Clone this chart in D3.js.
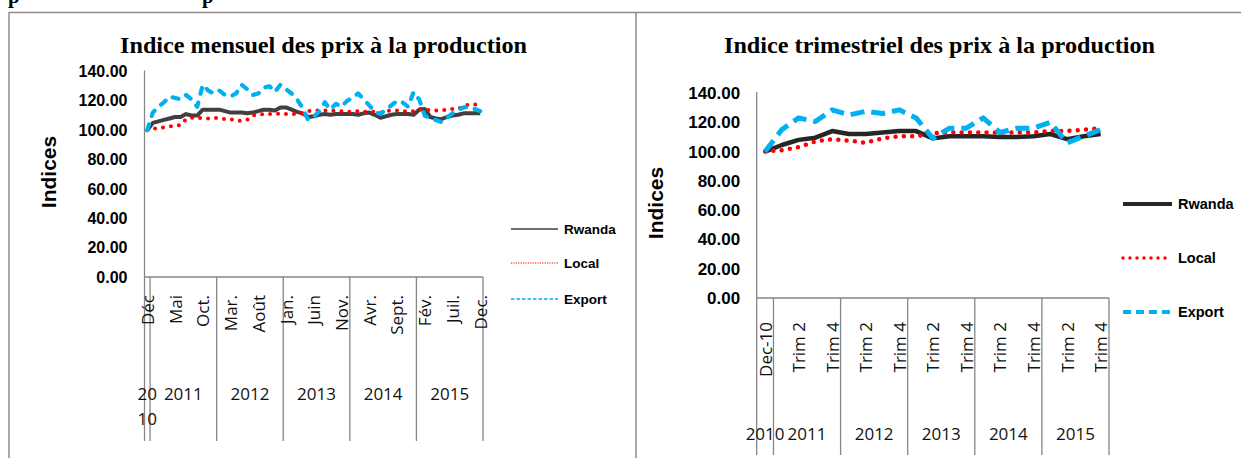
<!DOCTYPE html>
<html>
<head>
<meta charset="utf-8">
<script src="https://cdn.jsdelivr.net/npm/d3@7"></script>
<style>
  html, body { margin: 0; padding: 0; background: #fff; }
  svg { display: block; }
</style>
</head>
<body>
<div id="chart"></div>
<script>
// ---------------- DATA ----------------
const seriesNames = ["Rwanda", "Local", "Export"];
const yTicks = [0, 20, 40, 60, 80, 100, 120, 140];

// Monthly: Dec 2010 .. Dec 2015 (61 months)
const monthTickLabels = ["Déc", "Mai", "Oct.", "Mar.", "Août", "Jan.", "Juin", "Nov.", "Avr.", "Sept.", "Fév.", "Juil.", "Dec."];
const monthTickStep = 5;
const yearLabels = ["2010", "2011", "2012", "2013", "2014", "2015"];
const monthsPerYear = [1, 12, 12, 12, 12, 12];

const rwandaMonthly = [100, 105, 106, 107, 108, 109, 109, 111, 110, 110,
  114, 114, 114, 114, 113, 112, 112, 112, 111.5, 112,
  113, 114, 114, 113.5, 115.5, 115.5, 114, 112.5, 111.5, 109,
  109.5, 110.5, 111, 110.5, 111, 111, 111, 111, 110.5, 111.5,
  112, 110.5, 108.5, 109.5, 110.5, 111, 111, 111, 110.5, 114,
  114.5, 109, 108, 107.5, 109, 110, 110.5, 111.5, 111.5, 111.5, 111.5];
const localMonthly = [100, 101, 101.5, 102, 102.5, 103, 103.5, 107.5, 108.5, 108.5,
  108, 108, 108.5, 108, 107.5, 107.5, 106.5, 106.5, 107, 110,
  110.5, 111, 111, 111, 111.5, 111, 111, 111, 111.5, 113,
  113.5, 113.5, 113.5, 113.5, 113, 113, 112.5, 112.5, 113, 112.5,
  112.5, 112.5, 112, 113, 113.5, 113.5, 113, 113, 113, 114.5,
  114.5, 113.5, 113.5, 113.5, 114, 114.5, 114.5, 116.5, 117.5, 117.5, 117];
const exportMonthly = [100, 112, 116, 119, 123, 122, 121, 124, 121, 116,
  131, 127, 125, 127, 124, 123, 125, 131, 128, 124,
  125, 129, 130, 126, 131, 128, 125, 121, 115, 107,
  109, 113, 119, 114, 118, 116, 120, 122, 125, 121,
  117, 112.5, 111, 114, 117, 120, 119, 116, 126, 121,
  110, 108, 107, 105.5, 108.5, 111.5, 114, 115.5, 116, 114.5, 113];

// Quarterly: Dec-10, then Trim 1..4 for 2011..2015 (21 points)
const quarterTickLabels = ["Dec-10", "Trim 2", "Trim 4", "Trim 2", "Trim 4", "Trim 2", "Trim 4", "Trim 2", "Trim 4", "Trim 2", "Trim 4"];
const quarterTickStep = 2;
const quartersPerYear = [1, 4, 4, 4, 4, 4];

const rwandaQuarterly = [100, 104.5, 108, 109.5, 114, 112, 112, 113, 114, 114, 109, 110.5, 110.5, 110.5, 110, 110, 110.5, 112, 108.5, 110.5, 112];
const localQuarterly  = [100, 101, 103, 107, 108.5, 107.5, 106, 109, 110.5, 110.5, 112.5, 113, 113, 113, 113, 113, 113, 114, 114, 115, 116];
const exportQuarterly = [100, 115, 123, 120.5, 128.5, 125, 127.5, 126, 128.5, 123, 109, 116, 116, 123, 113, 116, 116, 120, 106, 110.5, 115];

// ---------------- DRAWING ----------------
const W = 1241, H = 458;
const svg = d3.select("#chart").append("svg").attr("width", W).attr("height", H);
const AXIS = "#868686";
const SANS = "'Liberation Sans', Arial, sans-serif";
const LABEL = "'Open Sans', 'Noto Sans', sans-serif";
const SERIF = "'Liberation Serif', 'Times New Roman', serif";

// Clipped heading remnants at very top (the reference shows only their lower part)
svg.append("g").selectAll("text").data([8, 202]).join("text")
  .attr("x", d => d).attr("y", 3)
  .attr("font-family", SERIF).attr("font-weight", "bold").attr("font-size", 21)
  .attr("fill", "#000").text("p");

// Frame
const frame = svg.append("g").attr("stroke", "#8c8c8c").attr("stroke-width", 1.5).attr("fill", "none");
frame.append("line").attr("x1", 9).attr("x2", W).attr("y1", 12.5).attr("y2", 12.5);
frame.append("line").attr("x1", 9).attr("x2", 9).attr("y1", 12).attr("y2", H);
frame.append("line").attr("x1", 636).attr("x2", 636).attr("y1", 12).attr("y2", H);

function drawPanel(cfg) {
  const g = svg.append("g");
  const n = cfg.series[0].values.length;
  const x = d3.scaleBand().domain(d3.range(n)).range([cfg.x0, cfg.x1]).paddingInner(0).paddingOuter(0);
  const cx = i => x(i) + x.bandwidth() / 2;
  const y = d3.scaleLinear().domain([0, 140]).range([cfg.yBottom, cfg.yTop]);

  // Title
  g.append("text")
    .attr("x", cfg.titleX).attr("y", cfg.titleY)
    .attr("text-anchor", "middle")
    .attr("font-family", SERIF).attr("font-weight", "bold").attr("font-size", 24)
    .attr("textLength", cfg.titleLen).attr("lengthAdjust", "spacingAndGlyphs")
    .attr("fill", "#000").text(cfg.title);

  // Y axis
  const yAxis = d3.axisLeft(y).tickValues(yTicks).tickFormat(d3.format(".2f")).tickSize(0).tickPadding(cfg.yPad);
  const ya = g.append("g").attr("transform", `translate(${cfg.x0},0)`).call(yAxis);
  ya.select(".domain").remove();
  ya.selectAll("text")
    .attr("font-family", SANS).attr("font-weight", "bold").attr("font-size", cfg.yFont).attr("fill", "#000");

  // Axis lines
  g.append("line").attr("x1", cfg.x0).attr("x2", cfg.x0).attr("y1", cfg.yTop - 1).attr("y2", cfg.sepBottom)
    .attr("stroke", AXIS).attr("stroke-width", 1.3);
  g.append("line").attr("x1", cfg.x0).attr("x2", cfg.x1).attr("y1", cfg.yBottom).attr("y2", cfg.yBottom)
    .attr("stroke", AXIS).attr("stroke-width", 1.3);

  // Group separators
  const bounds = d3.cumsum(cfg.groupSizes);
  g.append("g").selectAll("line").data(bounds).join("line")
    .attr("x1", d => d >= n ? cfg.x1 : x(d)).attr("x2", d => d >= n ? cfg.x1 : x(d))
    .attr("y1", cfg.yBottom).attr("y2", cfg.sepBottom)
    .attr("stroke", AXIS).attr("stroke-width", 1.3);

  // Rotated category labels
  g.append("g").selectAll("text").data(cfg.tickLabels).join("text")
    .attr("transform", (d, k) => `translate(${cx(k * cfg.tickStep)},${cfg.labelTop}) rotate(-90)`)
    .attr("text-anchor", "end").attr("dominant-baseline", "central")
    .attr("font-family", LABEL).attr("font-size", 17).attr("fill", "#111")
    .text(d => d);

  // Year labels
  const starts = [0, ...bounds.slice(0, -1)];
  cfg.groupLabels.forEach((lab, k) => {
    const s = starts[k], e = bounds[k];
    const mid = ((s >= n ? cfg.x1 : x(s)) + (e >= n ? cfg.x1 : x(e))) / 2;
    const t = g.append("text")
      .attr("x", mid).attr("y", cfg.yearY)
      .attr("text-anchor", "middle").attr("dominant-baseline", "central")
      .attr("font-family", LABEL).attr("font-size", 17).attr("fill", "#111");
    if (cfg.wrapFirst && k === 0) {
      t.append("tspan").attr("x", mid).text(lab.slice(0, 2));
      t.append("tspan").attr("x", mid).attr("dy", 25).text(lab.slice(2));
    } else {
      t.text(lab);
    }
  });

  // Lines
  const line = d3.line().x((d, i) => cx(i)).y(d => y(d));
  cfg.series.forEach(s => {
    g.append("path").datum(s.values)
      .attr("d", line).attr("fill", "none")
      .attr("stroke", s.color).attr("stroke-width", s.width)
      .attr("stroke-dasharray", s.dash || null)
      .attr("stroke-linecap", s.cap || "butt").attr("stroke-linejoin", "round");
  });

  // Legend
  const lg = g.append("g");
  cfg.series.forEach((s, k) => {
    const ly = cfg.legY[k];
    lg.append("line").attr("x1", cfg.legX0).attr("x2", cfg.legX1).attr("y1", ly).attr("y2", ly)
      .attr("stroke", s.color).attr("stroke-width", s.legWidth)
      .attr("stroke-dasharray", s.legDash || null).attr("stroke-linecap", s.legCap || "butt");
    lg.append("text").attr("x", cfg.legX1 + 6).attr("y", ly).attr("dy", "0.35em")
      .attr("font-family", SANS).attr("font-weight", "bold").attr("font-size", cfg.legFont).attr("fill", "#000")
      .text(seriesNames[k]);
  });

  // Y axis title
  g.append("text")
    .attr("transform", `translate(${cfg.yTitleX},${cfg.yTitleY}) rotate(-90)`)
    .attr("text-anchor", "middle").attr("dominant-baseline", "central")
    .attr("font-family", SANS).attr("font-weight", "bold").attr("font-size", 21).attr("fill", "#000")
    .text("Indices");
}

drawPanel({
  title: "Indice mensuel des prix à la production", titleX: 323.5, titleY: 53, titleLen: 407,
  x0: 144.5, x1: 483, yTop: 71.5, yBottom: 277, sepBottom: 441,
  yPad: 17, yFont: 16,
  tickLabels: monthTickLabels, tickStep: monthTickStep, labelTop: 295,
  groupSizes: monthsPerYear, groupLabels: yearLabels, yearY: 393, wrapFirst: true,
  yTitleX: 48, yTitleY: 172,
  legX0: 511, legX1: 558, legY: [229, 263, 299], legFont: 13.5,
  series: [
    { values: rwandaMonthly, color: "#404040", width: 4, legWidth: 1.3 },
    { values: localMonthly, color: "#ff0000", width: 4, dash: "0 8", cap: "round", legWidth: 1.2, legDash: "1.2 1.2" },
    { values: exportMonthly, color: "#00b0f0", width: 4.2, dash: "6 9", cap: "round", legWidth: 1.3, legDash: "3.5 2" }
  ]
});

drawPanel({
  title: "Indice trimestriel des prix à la production", titleX: 939.5, titleY: 53, titleLen: 431,
  x0: 756.7, x1: 1109, yTop: 93, yBottom: 298, sepBottom: 455,
  yPad: 16.5, yFont: 17,
  tickLabels: quarterTickLabels, tickStep: quarterTickStep, labelTop: 322,
  groupSizes: quartersPerYear, groupLabels: yearLabels, yearY: 433, wrapFirst: false,
  yTitleX: 655, yTitleY: 203,
  legX0: 1123, legX1: 1172, legY: [204, 258, 312], legFont: 14.5,
  series: [
    { values: rwandaQuarterly, color: "#262626", width: 4.5, legWidth: 4 },
    { values: localQuarterly, color: "#ff0000", width: 4.5, dash: "0 8.3", cap: "round", legWidth: 3.5, legDash: "0 7", legCap: "round" },
    { values: exportQuarterly, color: "#00b0f0", width: 5, dash: "14 7", legWidth: 4, legDash: "8 5" }
  ]
});
</script>
</body>
</html>
